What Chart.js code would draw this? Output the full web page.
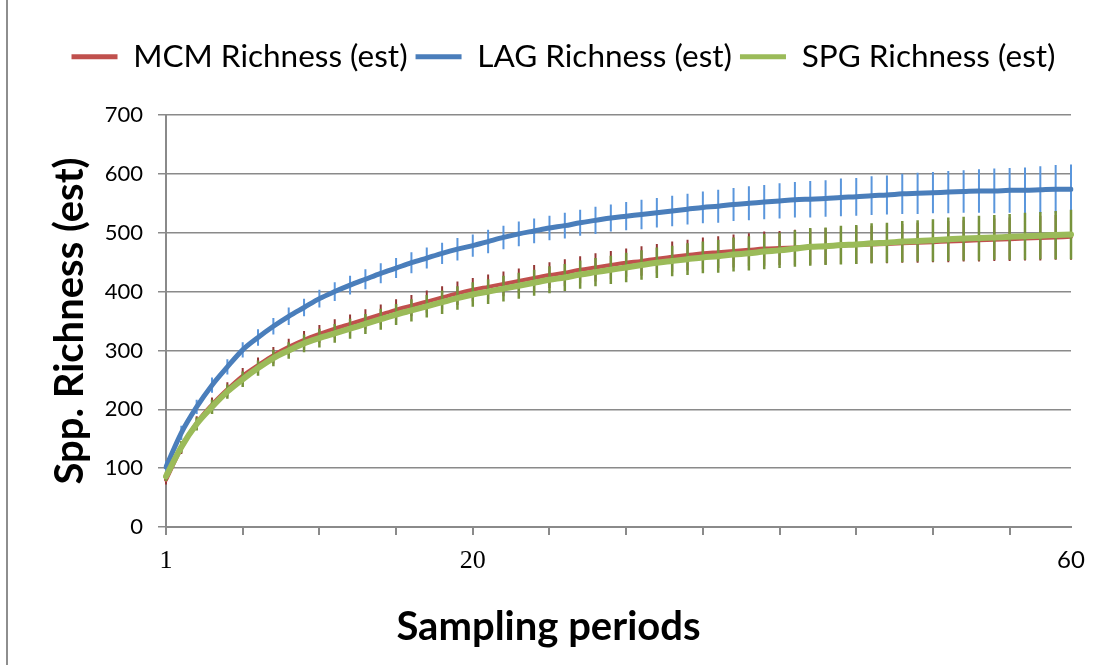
<!DOCTYPE html>
<html lang="en">
<head>
<meta charset="UTF-8" />
<title>Spp. Richness (est)</title>
<script src="https://cdn.jsdelivr.net/npm/chart.js"></script>
<style>
  html, body { margin: 0; padding: 0; background: #fff; }
  #wrap { position: relative; width: 1102px; height: 665px; overflow: hidden; }
  #frame { position: absolute; left: 6px; top: 0; bottom: 0; border-left: 2px solid #8e8e8e; }
  canvas { position: absolute; left: 0; top: 0; }
</style>
</head>
<body>
<div id="wrap">
  <div id="frame"></div>
  <canvas id="myChart" width="1102" height="665"></canvas>
</div>
<script>
// sampling periods
var periods = [1,2,3,4,5,6,7,8,9,10,11,12,13,14,15,16,17,18,19,20,
  21,22,23,24,25,26,27,28,29,30,31,32,33,34,35,36,37,38,39,40,
  41,42,43,44,45,46,47,48,49,50,51,52,53,54,55,56,57,58,59,60];
// only these labels are shown on the x axis (index -> text)
var xTickLabels = { 0: "1", 20: "20", 59: "60" };

var mcm = [80,134,177,208,234,257,275,292,306,318,
  328,337,345,353,361,369,376,383,390,397,
  403,408,413,418,423,428,432,437,441,445,
  449,452,456,459,462,465,467,469,471,473,
  474,475,476,477,478,479,480,481,482,483,
  484,485,486,487,488,489,490,491,492,493];
var mcmErr = [8,10,11,12,12,13,13,14,14,15,
  15,16,16,17,17,18,18,19,19,20,
  20,21,21,21,22,22,23,23,24,24,
  24,25,25,26,26,27,27,28,28,29,
  29,30,30,31,31,32,32,33,33,34,
  34,35,35,36,36,37,37,38,38,39];

var lag = [102,160,204,241,272,301,322,341,358,373,
  388,400,411,421,431,440,449,457,465,472,
  478,485,492,498,503,508,512,517,521,525,
  528,531,534,537,540,543,545,548,550,552,
  554,556,557,558,560,561,563,564,566,567,
  568,569,570,571,571,572,572,573,574,574];
var lagErr = [10,12,12,13,13,13,14,14,15,15,
  15,16,16,17,17,17,18,18,18,19,
  19,20,20,21,21,21,22,22,23,23,
  24,25,25,26,26,27,28,28,29,29,
  30,30,31,31,32,32,33,33,34,35,
  35,36,36,37,38,38,39,40,41,42];

var spg = [86,136,175,204,230,251,270,287,300,312,
  321,329,337,345,353,361,368,375,382,389,
  395,400,405,410,415,420,424,429,433,437,
  441,445,449,452,455,458,460,463,465,468,
  470,473,476,477,479,480,482,483,485,486,
  487,489,490,491,492,493,494,495,496,497];
var spgErr = [8,10,11,12,12,13,13,14,14,15,
  16,16,17,17,18,18,19,19,20,20,
  21,21,22,22,22,23,23,24,24,24,
  25,25,26,26,27,27,28,29,29,30,
  30,31,32,32,33,33,34,34,35,35,
  36,37,37,38,38,39,40,40,41,42];

var yTicks = [0, 100, 200, 300, 400, 500, 600, 700];

var GRID = "#8a8a8a";
var SANS = "Lato";
var LEGEND_SHIFT = 28;
var TITLE_SHIFT = 13;

// vertical error bars drawn just before each line
var errorBars = {
  id: "errorBars",
  beforeDatasetDraw: function (chart, args) {
    var ds = chart.data.datasets[args.index];
    if (!ds.errors) return;
    var ctx = chart.ctx;
    var xs = chart.scales.x;
    var ys = chart.scales.y;
    ctx.save();
    ctx.strokeStyle = ds.errorColor;
    ctx.lineWidth = ds.errorWidth;
    ctx.beginPath();
    ds.data.forEach(function (v, i) {
      var x = xs.getPixelForValue(i);
      ctx.moveTo(x, ys.getPixelForValue(v + ds.errors[i]));
      ctx.lineTo(x, ys.getPixelForValue(v - ds.errors[i]));
    });
    ctx.stroke();
    ctx.restore();
  }
};

// fixed legend height, and legend / bottom title nudged right
var boxTweaks = {
  id: "boxTweaks",
  beforeInit: function (chart) {
    var orig = chart.legend.fit;
    chart.legend.fit = function () {
      orig.call(chart.legend);
      this.height = 115 - 33;
    };
  },
  afterLayout: function (chart) {
    chart.legend.left += LEGEND_SHIFT;
    chart.legend.right += LEGEND_SHIFT;
    chart.titleBlock.left += TITLE_SHIFT;
    chart.titleBlock.right += TITLE_SHIFT;
  }
};

var ctx = document.getElementById("myChart");

new Chart(ctx, {
  type: "line",
  data: {
    labels: periods,
    datasets: [
      {
        label: "MCM Richness (est)",
        data: mcm,
        errors: mcmErr,
        errorColor: "#953735",
        errorWidth: 2,
        borderColor: "#C0504D",
        backgroundColor: "#C0504D",
        borderWidth: 4,
        order: 3
      },
      {
        label: "LAG Richness (est)",
        data: lag,
        errors: lagErr,
        errorColor: "#5a96dc",
        errorWidth: 2,
        borderColor: "#4A7EBB",
        backgroundColor: "#4A7EBB",
        borderWidth: 5,
        order: 2
      },
      {
        label: "SPG Richness (est)",
        data: spg,
        errors: spgErr,
        errorColor: "#77933C",
        errorWidth: 2.5,
        borderColor: "#9BBB59",
        backgroundColor: "#9BBB59",
        borderWidth: 6,
        order: 1
      }
    ]
  },
  options: {
    responsive: false,
    animation: false,
    layout: { padding: { top: 33, left: 0, right: 31, bottom: 0 } },
    elements: {
      point: { radius: 0, hoverRadius: 0 },
      line: { cubicInterpolationMode: "monotone", borderCapStyle: "round", borderJoinStyle: "round" }
    },
    plugins: {
      tooltip: { enabled: false },
      title: {
        display: true,
        position: "bottom",
        text: "Sampling periods",
        color: "#000",
        font: { family: SANS, size: 40, weight: "bold", lineHeight: 1.2 },
        padding: { top: 0, bottom: 14 }
      },
      legend: {
        position: "top",
        labels: {
          color: "#000",
          font: { family: SANS, size: 31.5 },
          padding: 8,
          usePointStyle: true,
          pointStyleWidth: 46,
          generateLabels: function (chart) {
            return chart.data.datasets.map(function (ds, i) {
              return {
                text: ds.label,
                fillStyle: ds.borderColor,
                strokeStyle: ds.borderColor,
                lineWidth: 5,
                pointStyle: "line",
                hidden: false,
                datasetIndex: i,
                fontColor: "#000"
              };
            });
          }
        }
      }
    },
    scales: {
      x: {
        type: "category",
        afterFit: function (s) { s.height = 665 - 527 - 62; },
        grid: {
          drawOnChartArea: false,
          drawTicks: true,
          tickLength: 8,
          lineWidth: 2,
          color: function (c) { return (c.index % 5 === 0 && c.index < 59) ? GRID : "rgba(0,0,0,0)"; }
        },
        border: { display: true, color: GRID, width: 2 },
        ticks: {
          autoSkip: false,
          maxRotation: 0,
          minRotation: 0,
          padding: 11,
          color: "#000",
          font: function (c) {
            return c.index === 59 ? { family: SANS, size: 24 } : { family: "Liberation Serif", size: 26 };
          },
          callback: function (val, i) { return xTickLabels[i] || ""; }
        }
      },
      y: {
        min: 0,
        max: 700,
        afterFit: function (s) { s.width = 166; },
        afterBuildTicks: function (s) { s.ticks = yTicks.map(function (v) { return { value: v }; }); },
        grid: { color: GRID, lineWidth: 1.5, tickLength: 8 },
        border: { display: true, color: GRID, width: 2 },
        ticks: {
          padding: 15,
          color: "#000",
          font: { family: SANS, size: 22 }
        },
        title: {
          display: true,
          text: "Spp. Richness (est)",
          color: "#000",
          font: { family: SANS, size: 40, weight: "bold", lineHeight: 1.2 },
          padding: { top: 46, bottom: 0 }
        }
      }
    }
  },
  plugins: [errorBars, boxTweaks]
});
</script>
</body>
</html>
